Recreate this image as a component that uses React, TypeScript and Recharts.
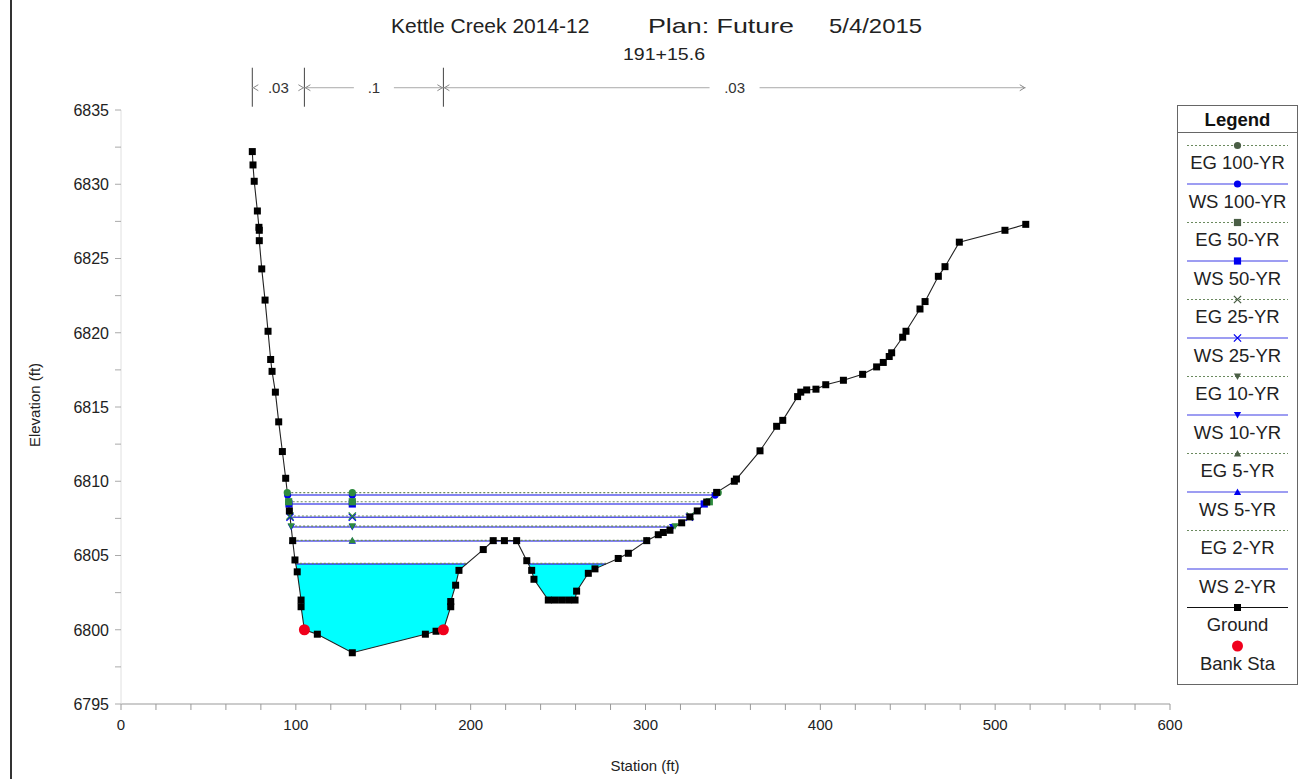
import React from 'react';
import { ComposedChart, Line, Area, XAxis, YAxis, ReferenceLine } from 'recharts';

const FONT = '"Liberation Sans", Arial, Helvetica, sans-serif';

// ---- Ground cross section ----
const groundStation = [
  75.1, 75.5, 76.2, 78.0, 78.9, 79.1, 79.1, 80.5, 82.4, 84.1, 85.6, 86.4, 88.3, 90.2, 92.3, 94.2,
  96.3, 98.2, 99.5, 100.8, 103.0, 103.0, 104.9, 112.3, 132.3, 174.1, 180.2, 184.4, 188.6, 188.6,
  191.4, 193.3, 207.2, 212.9, 219.3, 226.3, 232.1, 234.9, 236.2, 244.4, 248.0, 252.0, 256.0, 259.7,
  260.6, 267.3, 271.1, 284.4, 290.2, 300.7, 307.3, 310.2, 314.0, 320.7, 325.4, 329.6, 335.0, 340.7,
  350.8, 352.0, 365.5, 375.0, 378.5, 387.0, 388.8, 392.2, 397.5, 403.1, 413.2, 424.2, 432.2, 436.0,
  439.4, 440.8, 447.1, 449.0, 457.0, 459.9, 467.5, 471.3, 479.5, 505.6, 517.5,
];
const groundElevation = [
  6832.2, 6831.3, 6830.2, 6828.2, 6827.1, 6826.9, 6826.2, 6824.3, 6822.2, 6820.1, 6818.2, 6817.4, 6816.0, 6814.0, 6812.0, 6810.2,
  6808.0, 6806.0, 6804.7, 6803.9, 6802.0, 6801.55, 6800.0, 6799.7, 6798.45, 6799.7, 6799.9, 6800.0, 6801.55, 6801.9,
  6803.0, 6804.0, 6805.4, 6806.0, 6806.0, 6806.0, 6804.65, 6804.0, 6803.4, 6802.0, 6802.0, 6802.0, 6802.0, 6802.0,
  6802.6, 6803.8, 6804.1, 6804.8, 6805.15, 6806.0, 6806.4, 6806.55, 6806.7, 6807.2, 6807.6, 6808.0, 6808.6, 6809.25,
  6810.0, 6810.15, 6812.05, 6813.7, 6814.1, 6815.7, 6816.0, 6816.15, 6816.2, 6816.5, 6816.8, 6817.2, 6817.7, 6818.0,
  6818.4, 6818.65, 6819.7, 6820.1, 6821.6, 6822.1, 6823.8, 6824.45, 6826.1, 6826.9, 6827.3,
];

// ---- Bank stations ----
const bankStation = [104.9, 184.4];
const bankElevation = [6800.0, 6800.0];

// ---- Water surface profiles ----
const profileNames = ['100-YR', '50-YR', '25-YR', '10-YR', '5-YR'];
const egElevation = [6809.23, 6808.62, 6807.66, 6806.98, 6806.02];
const wsElevation = [6809.07, 6808.47, 6807.58, 6806.92, 6805.98];
const egStations = [
  [95.1, 132.3, 341.6],
  [95.9, 132.3, 336.5],
  [96.6, 132.3, 325.6],
  [97.3, 132.3, 316.9],
  [98.2, 132.3, 300.7],
];
const wsStations = [
  [95.3, 132.3, 339.8],
  [96.1, 132.3, 333.6],
  [96.7, 132.3, 325.1],
  [97.4, 132.3, 315.5],
  [98.2, 132.3, 212.9, 226.3, 300.7],
];
// 2-YR: two separate pools
const eg2Elevation = 6804.47;
const ws2Elevation = 6804.43;
const pool2Left = [100.0, 197.6];
const pool2Right = [233.0, 277.4];

// ---- Manning's n ----
const nStations = [75.1, 104.9, 184.4, 517.5];
const nValues = ['.03', '.1', '.03'];
const nElevation = 6836.5;

// ---- Axis ticks ----
const xTicks = [0, 20, 40, 60, 80, 100, 120, 140, 160, 180, 200, 220, 240, 260, 280, 300, 320, 340, 360, 380, 400, 420, 440, 460, 480, 500, 520, 540, 560, 580, 600];
const yTicks = [6795, 6797.5, 6800, 6802.5, 6805, 6807.5, 6810, 6812.5, 6815, 6817.5, 6820, 6822.5, 6825, 6827.5, 6830, 6832.5, 6835];

// ---- derived tables ----
const groundData = groundStation.map((x, i) => ({ x, y: groundElevation[i] }));
const bankData = bankStation.map((x, i) => ({ x, y: bankElevation[i] }));
const lineData = (stations: number[], elev: number) => stations.map((x) => ({ x, y: elev }));
const poolData = (range: number[], elev: number) => {
  const inner = groundData.filter((p) => p.x > range[0] && p.x < range[1]).map((p) => ({ x: p.x, r: [p.y, elev] }));
  return [{ x: range[0], r: [elev, elev] }, ...inner, { x: range[1], r: [elev, elev] }];
};

const EG_LINE = '#6b8a5e';
const WS_LINE = '#3c3ce6';
const EG_MARK = '#2e8b3e';
const WS_MARK = '#0000f0';
const markerShapes = ['circle', 'square', 'x', 'down', 'up'];

const drawMarker = (shape: string, cx: number, cy: number, color: string, key?: any) => {
  const s = 3.6;
  if (shape === 'circle') return <circle key={key} cx={cx} cy={cy} r={s} fill={color} />;
  if (shape === 'square') return <rect key={key} x={cx - s} y={cy - s} width={2 * s} height={2 * s} fill={color} />;
  if (shape === 'x')
    return (
      <path key={key} d={`M${cx - s},${cy - s}L${cx + s},${cy + s}M${cx - s},${cy + s}L${cx + s},${cy - s}`} stroke={color} strokeWidth={1.3} fill="none" />
    );
  if (shape === 'down') return <path key={key} d={`M${cx - s},${cy - s * 0.8}L${cx + s},${cy - s * 0.8}L${cx},${cy + s}Z`} fill={color} />;
  if (shape === 'up') return <path key={key} d={`M${cx - s},${cy + s * 0.8}L${cx + s},${cy + s * 0.8}L${cx},${cy - s}Z`} fill={color} />;
  return <g key={key} />;
};

const makeDot = (shape: string, color: string) => (props: any) => {
  const { cx, cy, index } = props;
  if (cx == null || cy == null) return <g key={`d${index}`} />;
  return drawMarker(shape, cx, cy, color, `d${index}`);
};

const squareDot = (props: any) => {
  const { cx, cy, index } = props;
  if (cx == null || cy == null) return <g key={`g${index}`} />;
  return <rect key={`g${index}`} x={cx - 3.5} y={cy - 3.5} width={7} height={7} fill="#000" />;
};
const bankDot = (props: any) => {
  const { cx, cy, index } = props;
  if (cx == null || cy == null) return <g key={`b${index}`} />;
  return <circle key={`b${index}`} cx={cx} cy={cy} r={5.5} fill="#f0001c" />;
};

const XTick = (props: any) => {
  const { x, y, payload } = props;
  if (payload.value % 100 !== 0) return <g />;
  return (
    <text x={x} y={y} dy="0.71em" textAnchor="middle" fontSize={15} fill="#222" fontFamily={FONT}>
      {payload.value}
    </text>
  );
};
const YTick = (props: any) => {
  const { x, y, payload } = props;
  if (payload.value % 5 !== 0) return <g />;
  return (
    <text x={x} y={y} dy="0.36em" textAnchor="end" fontSize={16} fill="#222" fontFamily={FONT}>
      {payload.value}
    </text>
  );
};

const makeNShape = (label: string, drawStartTick: boolean) => (props: any) => {
  const { x1, y1, x2 } = props;
  const y = y1;
  const mid = (x1 + x2) / 2;
  const gap = label.length * 5 + 10;
  const a = 6;
  return (
    <g>
      {drawStartTick && <line x1={x1} y1={y - 20} x2={x1} y2={y + 19} stroke="#444" strokeWidth={1} />}
      <line x1={x1} y1={y} x2={mid - gap} y2={y} stroke="#aaa" strokeWidth={1} />
      <line x1={mid + gap} y1={y} x2={x2} y2={y} stroke="#aaa" strokeWidth={1} />
      <path d={`M${x1 + a},${y - 3}L${x1 + 1},${y}L${x1 + a},${y + 3}`} stroke="#888" fill="none" strokeWidth={1} />
      <path d={`M${x2 - a},${y - 3}L${x2 - 1},${y}L${x2 - a},${y + 3}`} stroke="#888" fill="none" strokeWidth={1} />
      <text x={mid} y={y} dy="0.36em" textAnchor="middle" fontSize={15} fill="#333" fontFamily={FONT}>
        {label}
      </text>
    </g>
  );
};

const legendItems = [
  { name: 'EG 100-YR', kind: 'eg', shape: 'circle' },
  { name: 'WS 100-YR', kind: 'ws', shape: 'circle' },
  { name: 'EG 50-YR', kind: 'eg', shape: 'square' },
  { name: 'WS 50-YR', kind: 'ws', shape: 'square' },
  { name: 'EG 25-YR', kind: 'eg', shape: 'x' },
  { name: 'WS 25-YR', kind: 'ws', shape: 'x' },
  { name: 'EG 10-YR', kind: 'eg', shape: 'down' },
  { name: 'WS 10-YR', kind: 'ws', shape: 'down' },
  { name: 'EG 5-YR', kind: 'eg', shape: 'up' },
  { name: 'WS 5-YR', kind: 'ws', shape: 'up' },
  { name: 'EG 2-YR', kind: 'eg', shape: 'none' },
  { name: 'WS 2-YR', kind: 'ws', shape: 'none' },
  { name: 'Ground', kind: 'ground', shape: 'square' },
  { name: 'Bank Sta', kind: 'bank', shape: 'circle' },
];

const LegendBox = () => {
  const lx1 = 1187;
  const lx2 = 1288;
  const cx = 1237.5;
  return (
    <g fontFamily={FONT}>
      <rect x={1177.5} y={105.5} width={120} height={579} fill="#fff" stroke="#666" strokeWidth={1} />
      <line x1={1177.5} y1={132.5} x2={1297.5} y2={132.5} stroke="#666" strokeWidth={1} />
      <text x={cx} y={119} dy="0.36em" textAnchor="middle" fontSize={18.5} fontWeight="bold" fill="#111">
        Legend
      </text>
      {legendItems.map((it, i) => {
        const ly = 145.5 + i * 38.5;
        let mark: any = null;
        let line: any = null;
        if (it.kind === 'eg') {
          line = <line x1={lx1} y1={ly} x2={lx2} y2={ly} stroke={EG_LINE} strokeDasharray="2 2" strokeWidth={1} />;
          mark = drawMarker(it.shape, cx, ly, '#4a5e45');
        } else if (it.kind === 'ws') {
          line = <line x1={lx1} y1={ly} x2={lx2} y2={ly} stroke={WS_LINE} strokeWidth={1.2} />;
          mark = drawMarker(it.shape, cx, ly, WS_MARK);
        } else if (it.kind === 'ground') {
          line = <line x1={lx1} y1={ly} x2={lx2} y2={ly} stroke="#111" strokeWidth={1.2} />;
          mark = <rect x={cx - 3.5} y={ly - 3.5} width={7} height={7} fill="#000" />;
        } else {
          mark = <circle cx={cx} cy={ly} r={5.5} fill="#f0001c" />;
        }
        return (
          <g key={it.name}>
            {line}
            {mark}
            <text x={cx} y={ly + 17} dy="0.36em" textAnchor="middle" fontSize={18.5} fill="#222">
              {it.name}
            </text>
          </g>
        );
      })}
    </g>
  );
};

export default function App() {
  return (
    <div style={{ position: 'absolute', left: 0, top: 0, width: 1301, height: 779, background: '#fff', overflow: 'hidden' }}>
      <ComposedChart width={1301} height={779} margin={{ top: 110, right: 131, bottom: 45, left: 61 }}>
        <XAxis
          type="number"
          dataKey="x"
          domain={[0, 600]}
          ticks={xTicks}
          interval={0}
          allowDataOverflow
          height={30}
          tickSize={6}
          tickMargin={9}
          stroke="#999"
          tick={(p: any) => <XTick {...p} />}
        />
        <YAxis
          type="number"
          domain={[6795, 6835]}
          ticks={yTicks}
          interval={0}
          allowDataOverflow
          width={60}
          tickSize={6}
          tickMargin={6}
          axisLine={{ stroke: '#e0e0e0' }}
          tickLine={{ stroke: '#aaa' }}
          tick={(p: any) => <YTick {...p} />}
        />
        <Area data={poolData(pool2Left, ws2Elevation)} dataKey="r" type="linear" fill="#00ffff" fillOpacity={1} stroke="none" isAnimationActive={false} activeDot={false} dot={false} />
        <Area data={poolData(pool2Right, ws2Elevation)} dataKey="r" type="linear" fill="#00ffff" fillOpacity={1} stroke="none" isAnimationActive={false} activeDot={false} dot={false} />

        {profileNames.map((name, i) => (
          <Line
            key={`ws${name}`}
            data={lineData(wsStations[i], wsElevation[i])}
            dataKey="y"
            type="linear"
            stroke={WS_LINE}
            strokeWidth={1.4}
            strokeOpacity={0.85}
            dot={makeDot(markerShapes[i], WS_MARK)}
            activeDot={false}
            isAnimationActive={false}
          />
        ))}
        {profileNames.map((name, i) => (
          <Line
            key={`eg${name}`}
            data={lineData(egStations[i], egElevation[i])}
            dataKey="y"
            type="linear"
            stroke={EG_LINE}
            strokeWidth={1.2}
            strokeDasharray="2 2"
            dot={makeDot(markerShapes[i], EG_MARK)}
            activeDot={false}
            isAnimationActive={false}
          />
        ))}
        <Line data={lineData(pool2Left, ws2Elevation)} dataKey="y" type="linear" stroke={WS_LINE} strokeWidth={1.4} dot={false} activeDot={false} isAnimationActive={false} />
        <Line data={lineData(pool2Right, ws2Elevation)} dataKey="y" type="linear" stroke={WS_LINE} strokeWidth={1.4} dot={false} activeDot={false} isAnimationActive={false} />
        <Line data={lineData(pool2Left, eg2Elevation)} dataKey="y" type="linear" stroke={EG_LINE} strokeWidth={1.2} strokeDasharray="2 2" dot={false} activeDot={false} isAnimationActive={false} />
        <Line data={lineData(pool2Right, eg2Elevation)} dataKey="y" type="linear" stroke={EG_LINE} strokeWidth={1.2} strokeDasharray="2 2" dot={false} activeDot={false} isAnimationActive={false} />

        <Line data={groundData} dataKey="y" type="linear" stroke="#222" strokeWidth={1.1} dot={squareDot} activeDot={false} isAnimationActive={false} />
        <Line data={bankData} dataKey="y" type="linear" stroke="none" dot={bankDot} activeDot={false} isAnimationActive={false} />

        {nValues.map((v, i) => (
          <ReferenceLine
            key={`n${i}`}
            segment={[
              { x: nStations[i], y: nElevation },
              { x: nStations[i + 1], y: nElevation },
            ]}
            ifOverflow="visible"
            shape={makeNShape(v, true)}
          />
        ))}
      </ComposedChart>
      <svg width={1301} height={779} style={{ position: 'absolute', left: 0, top: 0, pointerEvents: 'none' }}>
        <line x1={11} y1={0} x2={11} y2={779} stroke="#333" strokeWidth={2} />
        <g fontFamily={FONT} fill="#222">
          <text x={391} y={33} fontSize={21}>Kettle Creek 2014-12</text>
          <text x={648} y={33} fontSize={21} textLength={146} lengthAdjust="spacingAndGlyphs">Plan: Future</text>
          <text x={829} y={33} fontSize={21} textLength={93} lengthAdjust="spacingAndGlyphs">5/4/2015</text>
          <text x={623} y={60} fontSize={16} textLength={82} lengthAdjust="spacingAndGlyphs">191+15.6</text>
          <text x={645} y={771} fontSize={15} textAnchor="middle">Station (ft)</text>
          <text x={40} y={405} fontSize={15} textAnchor="middle" transform="rotate(-90 40 405)">Elevation (ft)</text>
        </g>
        <LegendBox />
      </svg>
    </div>
  );
}
